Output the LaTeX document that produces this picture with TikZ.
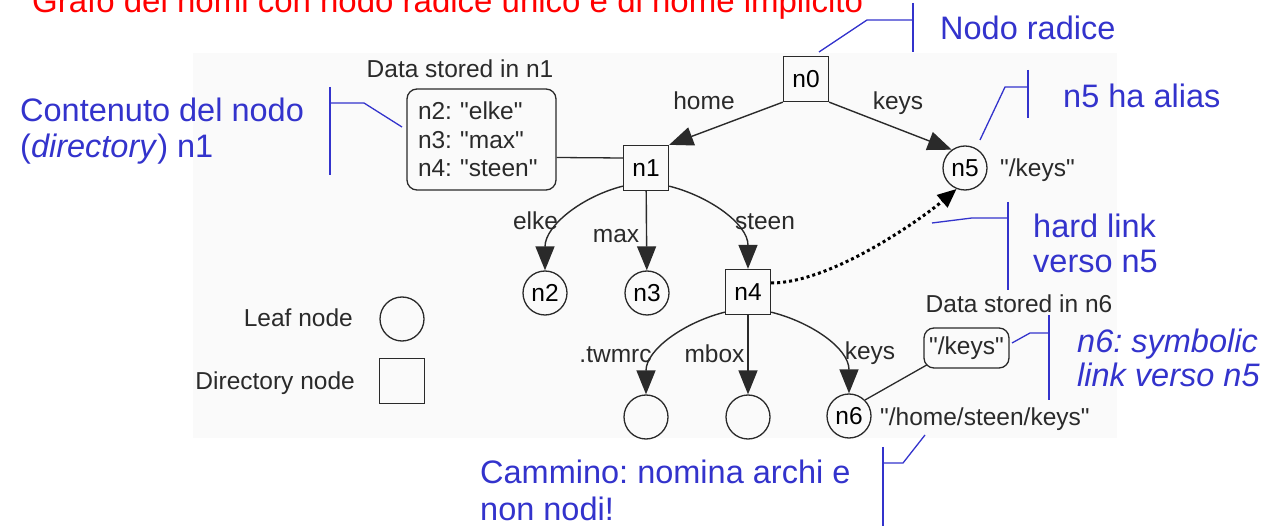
\documentclass[tikz,border=0pt]{standalone}
\usepackage{fontspec}
\setmainfont{Liberation Sans}[Ligatures=TeXOff]
\usetikzlibrary{arrows.meta}
\definecolor{annblue}{HTML}{3333CC}
\definecolor{bggray}{HTML}{FAFAFA}
\definecolor{ink}{HTML}{2A2A2A}
\newcommand{\qq}{\char34\relax}
\frenchspacing
\begin{document}
\begin{tikzpicture}[x=1pt,y=-1pt,
  dfont/.style={font=\fontsize{24.5}{28.5}\selectfont},
  dirnode/.style={draw=ink, line width=1.3pt, minimum size=45pt, inner sep=0pt, dfont},
  leafnode/.style={draw=ink, line width=1.3pt, circle, minimum size=44pt, inner sep=0pt, dfont},
  edge/.style={line width=1.4pt, ink, -{Triangle[length=24pt,width=19pt]}},
  plain/.style={line width=1.3pt, ink},
  dotarrow/.style={line width=3pt, black, dash pattern=on 3pt off 3pt, -{Triangle[length=19pt,width=16pt]}},
  lbl/.style={dfont, text=ink, inner sep=0pt, anchor=base},
  ann/.style={text=annblue, font=\fontsize{32.5}{36}\selectfont, inner sep=0pt, anchor=base west},
  callout/.style={draw=annblue, line width=1.3pt},
  databox/.style={draw=ink, line width=1.3pt, rounded corners=10pt, dfont, text=ink}
]
\useasboundingbox (0,0) rectangle (1272,526);
\fill[bggray] (193,53) rectangle (1117,438);

% title
\node[text=red, font=\fontsize{33}{36}\selectfont, anchor=base west, inner sep=0pt] (title) at (32,13) {Grafo dei nomi con nodo radice unico e di nome implicito};

% graph nodes
\node[dirnode] (n0) at (806,79) {n0};
\node[dirnode] (n1) at (646,168) {n1};
\node[leafnode] (n5) at (965,168) {n5};
\node[leafnode] (n2) at (545,293) {n2};
\node[leafnode] (n3) at (647,293) {n3};
\node[dirnode] (n4) at (748,292) {n4};
\node[leafnode] (l1) at (646,417) {};
\node[leafnode] (l2) at (748,417) {};
\node[leafnode] (n6) at (849,416) {n6};

% data boxes
\node[lbl] (d1t) at (460,78) {Data stored in n1};
\node[databox, align=left, text width=127pt, inner xsep=11pt, minimum height=101pt] (d1) at (481.5,139.5) {n2: \qq elke\qq\\ n3: \qq max\qq\\ n4: \qq steen\qq};
\node[lbl] (d6t) at (1019,313) {Data stored in n6};
\node[databox, minimum width=85pt, minimum height=40pt, inner sep=0pt] (d6) at (966.5,348) {\qq/keys\qq};

% path labels
\node[lbl, anchor=base west] (p5) at (1000,177) {\qq/keys\qq};
\node[lbl, anchor=base west] (p6) at (880,425) {\qq/home/steen/keys\qq};

% edges
\draw[edge] (n0.south west) -- (n1.north east);
\draw[edge] (n0.south east) -- (n5.126);
\draw[edge] ([yshift=5pt]n1.south west) .. controls +(-40,10) and +(0,-45) .. (n2.north);
\draw[edge] (n1) -- (n3);
\draw[edge] ([yshift=5pt]n1.south east) .. controls +(40,10) and +(0,-45) .. (n4.north);
\draw[edge] ([yshift=3pt]n4.south west) .. controls +(-40,10) and +(0,-45) .. (l1.north);
\draw[edge] (n4) -- (l2);
\draw[edge] ([yshift=3pt]n4.south east) .. controls +(40,10) and +(0,-45) .. (n6.north);
\draw[plain] ([yshift=-18pt]d1.east) -- ([yshift=10pt]n1.west);
\draw[plain] (n6.north east) -- ([shift={(4pt,4pt)}]d6.south west);
\draw[dotarrow] ([yshift=9pt]n4.east) .. controls +(60,0) and +(-35,30) .. (n5.248);

% edge labels
\node[lbl] (lhome) at (704,110) {home};
\node[lbl] (lkeys) at (898,110) {keys};
\node[lbl] (lelke) at (535.5,230) {elke};
\node[lbl] (lmax) at (616,243) {max};
\node[lbl] (lsteen) at (765,230) {steen};
\node[lbl] (ltw) at (615.5,363) {.twmrc};
\node[lbl] (lmbox) at (714.5,363) {mbox};
\node[lbl] (lkeys2) at (870,360) {keys};

% legend
\node[lbl, anchor=base east] (leaf) at (353,327) {Leaf node};
\node[leafnode] (leafsym) at (402,319) {};
\node[lbl, anchor=base east] (dir) at (355,390) {Directory node};
\node[dirnode] (dirsym) at (402,381) {};

% annotations
\node[ann] (a0) at (940,40) {Nodo radice};
\node[ann] (a5) at (1063,108) {n5 ha alias};
\node[ann] (a1a) at (20,122) {Contenuto del nodo};
\node[ann] (a1b) at (20,158) {(\textit{directory}) n1};
\node[ann] (ah1) at (1033,238) {hard link};
\node[ann] (ah2) at (1033,273) {verso n5};
\node[ann, font=\fontsize{32.5}{36}\selectfont\itshape] (as1) at (1077,353) {n6: symbolic};
\node[ann, font=\fontsize{32.5}{36}\selectfont\itshape] (as2) at (1077,387) {link verso n5};
\node[ann] (ac1) at (480,483) {Cammino: nomina archi e};
\node[ann] (ac2) at (480,520) {non nodi!};

% callouts
\coordinate (c0) at (819,52);
\coordinate (c5) at (980,140);
\coordinate (c1) at (402,127);
\coordinate (ch) at (932,223);
\coordinate (cs) at (1012,343);
\coordinate (cc) at (925,435);
\draw[callout] (913,3) -- (913,52);
\draw[callout] (913,20) -- (867,20) -- (c0);
\draw[callout] (1028,70) -- (1028,118);
\draw[callout] (1028,87) -- (1005,87) -- (c5);
\draw[callout] (330,87) -- (330,175);
\draw[callout] (330,103) -- (364,103) -- (c1);
\draw[callout] (1008,202) -- (1008,290);
\draw[callout] (1008,218) -- (972,218) -- (ch);
\draw[callout] (1049,315) -- (1049,400);
\draw[callout] (1049,333) -- (1030,333) -- (cs);
\draw[callout] (883,447) -- (883,530);
\draw[callout] (883,463) -- (903,463) -- (cc);
\end{tikzpicture}
\end{document}
